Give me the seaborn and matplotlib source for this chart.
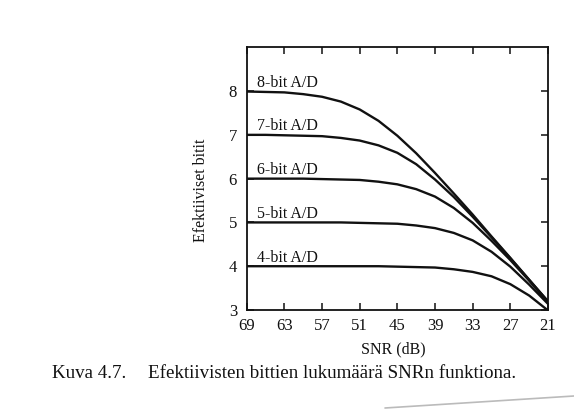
import matplotlib
matplotlib.use("Agg")
import matplotlib.pyplot as plt
from matplotlib.lines import Line2D
import numpy as np
import pandas as pd
import seaborn as sns

# SNR of the input signal (dB), read every 3 dB
snr_db = [69, 66, 63, 60, 57, 54, 51, 48, 45, 42, 39, 36, 33, 30, 27, 24, 21]

# Effective number of bits for each converter resolution
enob_8bit = [7.99, 7.98, 7.97, 7.93, 7.87, 7.76, 7.58, 7.32, 6.98, 6.58, 6.13, 5.66, 5.18, 4.68, 4.19, 3.69, 3.20]
enob_7bit = [7.00, 7.00, 6.99, 6.98, 6.97, 6.93, 6.87, 6.76, 6.59, 6.33, 5.98, 5.58, 5.13, 4.66, 4.18, 3.69, 3.19]
enob_6bit = [6.00, 6.00, 6.00, 6.00, 5.99, 5.98, 5.97, 5.93, 5.87, 5.76, 5.59, 5.33, 4.99, 4.58, 4.14, 3.67, 3.18]
enob_5bit = [5.00, 5.00, 5.00, 5.00, 5.00, 5.00, 4.99, 4.98, 4.97, 4.93, 4.87, 4.76, 4.59, 4.33, 3.99, 3.58, 3.14]
enob_4bit = [4.00, 4.00, 4.00, 4.00, 4.00, 4.00, 4.00, 4.00, 3.99, 3.98, 3.97, 3.93, 3.87, 3.77, 3.59, 3.33, 2.99]

series_names = ["8-bit A/D", "7-bit A/D", "6-bit A/D", "5-bit A/D", "4-bit A/D"]
series_values = [enob_8bit, enob_7bit, enob_6bit, enob_5bit, enob_4bit]

x_ticks = [69, 63, 57, 51, 45, 39, 33, 27, 21]
y_ticks = [3, 4, 5, 6, 7, 8]

x_label = "SNR (dB)"
y_label = "Efektiiviset bitit"
caption_num = "Kuva 4.7."
caption_text = "Efektiivisten bittien lukumäärä SNRn funktiona."

frames = []
for name, vals in zip(series_names, series_values):
    frames.append(pd.DataFrame({"snr": snr_db, "bits": vals, "adc": name}))
df = pd.concat(frames, ignore_index=True)

sns.set_style("ticks")
plt.rcParams["font.family"] = ["Liberation Serif", "DejaVu Serif"]
plt.rcParams["xtick.direction"] = "in"
plt.rcParams["ytick.direction"] = "in"

fig = plt.figure(figsize=(5.74, 4.13), dpi=100)
fig.patch.set_facecolor("white")
ax = fig.add_axes([0.4298, 0.2494, 0.5249, 0.6361])

sns.lineplot(data=df, x="snr", y="bits", hue="adc", hue_order=series_names,
             palette=["#111111"] * len(series_names), linewidth=1.7,
             legend=False, ax=ax, sort=False)

ax.set_xlim(69, 21)
ax.set_ylim(3, 9)
ax.set_xticks(x_ticks)
ax.set_xticklabels([str(t) for t in x_ticks])
ax.set_yticks(y_ticks)
ax.set_yticklabels([str(t) for t in y_ticks])

for side in ["left", "right", "top", "bottom"]:
    ax.spines[side].set_visible(True)
    ax.spines[side].set_linewidth(1.3)
    ax.spines[side].set_color("#111111")

ax.tick_params(axis="both", which="major", length=5, width=1.1, color="#111111",
               labelsize=12, labelcolor="#111111", top=True, right=True)
ax.tick_params(axis="x", pad=6)
ax.tick_params(axis="y", pad=7)

ax.set_xlabel(x_label, fontsize=11.5, color="#111111")
ax.set_ylabel(y_label, fontsize=11.5, color="#111111")
ax.xaxis.set_label_coords(0.486, -0.118)
ax.yaxis.set_label_coords(-0.125, 0.455)

# Curve names just above the flat part of each curve
for name, vals in zip(series_names, series_values):
    ax.text(67.3, vals[0] + 0.1, name, fontsize=11.5, color="#111111",
            ha="left", va="baseline")

fig.text(52 / 574, 1 - 378 / 413, caption_num, fontsize=13.7, color="#111111",
         ha="left", va="baseline")
fig.text(148 / 574, 1 - 378 / 413, caption_text, fontsize=13.7, color="#111111",
         ha="left", va="baseline")

# faint page-edge shadow along the lower right
fig.add_artist(Line2D([385 / 574, 1.0], [1 - 408 / 413, 1 - 396 / 413],
                      transform=fig.transFigure, color="#bbbbbb", linewidth=1.2))

fig.savefig("out.png", dpi=100, facecolor="white")
